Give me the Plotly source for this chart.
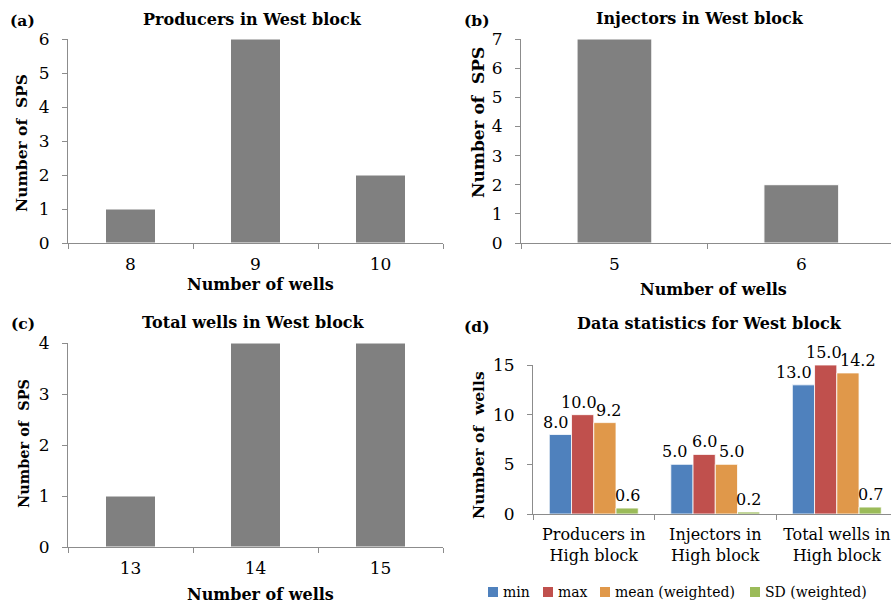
import plotly.graph_objects as go

# ---- data ----
prod_wells = ["8", "9", "10"]
prod_sps = [1, 6, 2]

inj_wells = ["5", "6"]
inj_sps = [7, 2]

total_wells = ["13", "14", "15"]
total_sps = [1, 4, 4]

stat_groups = ["Producers in<br>High block", "Injectors in<br>High block", "Total wells in<br>High block"]
stat_series = ["min", "max", "mean (weighted)", "SD (weighted)"]
stat_min = [8.0, 5.0, 13.0]
stat_max = [10.0, 6.0, 15.0]
stat_mean = [9.2, 5.0, 14.2]
stat_sd = [0.6, 0.2, 0.7]

# ---- styling ----
W, H = 891, 607
FONT = "DejaVu Serif"
AXIS_COLOR = "#8c8c8c"
GREY_BAR = "#808080"
SERIES_COLORS = ["#4f81bd", "#c0504d", "#e0984a", "#9bbb59"]
BARGAP = 0.268
# small sideways nudges (px) so neighbouring value labels do not collide
LABEL_NUDGE = [[-5, -4, 4, 0], [-7, 0, 5, 0], [-9, -2, 10, 0]]


def px(x):
    return x / W


def py(y):
    return 1 - y / H


fig = go.Figure()

# histogram-style panels
for xs, ys, n in [(prod_wells, prod_sps, ""), (inj_wells, inj_sps, "2"), (total_wells, total_sps, "3")]:
    fig.add_trace(go.Bar(
        x=xs, y=ys, xaxis="x" + n, yaxis="y" + n,
        marker=dict(color=GREY_BAR, line=dict(color="white", width=1)),
        width=0.4, offset=-0.2, showlegend=False, hoverinfo="x+y",
    ))

# statistics panel
stat_values = [stat_min, stat_max, stat_mean, stat_sd]
for name, vals, col in zip(stat_series, stat_values, SERIES_COLORS):
    fig.add_trace(go.Bar(
        x=stat_groups, y=vals, name=name, xaxis="x4", yaxis="y4",
        marker=dict(color=col, line=dict(color="white", width=0.8)),
        showlegend=False, cliponaxis=False,
    ))

tickfont = dict(family=FONT, size=17, color="black")


def xax(x0, x1, anchor, rng, fsize=17):
    return dict(domain=[px(x0), px(x1)], anchor=anchor, type="category", range=rng,
                showline=True, linecolor=AXIS_COLOR, linewidth=1,
                ticks="outside", tickson="boundaries", ticklen=5, tickcolor=AXIS_COLOR,
                tickangle=0, ticklabelstandoff=6,
                showgrid=False, zeroline=False, automargin=False,
                tickfont=dict(family=FONT, size=fsize, color="black"), fixedrange=True)


def yax(ybot, ytop, anchor, rng, dtick):
    return dict(domain=[py(ybot), py(ytop)], anchor=anchor, range=rng, dtick=dtick,
                showline=True, linecolor=AXIS_COLOR, linewidth=1,
                ticks="outside", ticklen=5, tickcolor=AXIS_COLOR, ticklabelstandoff=9,
                showgrid=False, zeroline=False, automargin=False,
                tickfont=tickfont, fixedrange=True)


X4_RANGE = [-0.5, 2.446]
fig.update_layout(
    width=W, height=H,
    margin=dict(l=0, r=0, t=0, b=0, autoexpand=False),
    paper_bgcolor="white", plot_bgcolor="white",
    font=dict(family=FONT, color="black"),
    barmode="group", bargap=BARGAP, bargroupgap=0,
    showlegend=False,
    xaxis=xax(68, 443, "y", [-0.5, 2.5]),
    yaxis=yax(243, 39, "x", [0, 6], 1),
    xaxis2=xax(521, 891, "y2", [-0.5, 1.48]),
    yaxis2=yax(243, 39, "x2", [0, 7], 1),
    xaxis3=xax(68, 443, "y3", [-0.5, 2.5]),
    yaxis3=yax(547, 343, "x3", [0, 4], 1),
    xaxis4=xax(533, 891, "y4", X4_RANGE, fsize=16),
    yaxis4=yax(514, 365, "x4", [0, 15], 5),
)

ann = []
shapes = []
bold = lambda s: "<b>" + s + "</b>"


def paper_text(txt, x, y, size, angle=0, xanchor="center"):
    ann.append(dict(text=txt, x=px(x), y=py(y), xref="paper", yref="paper", showarrow=False,
                    xanchor=xanchor, yanchor="middle", textangle=angle,
                    font=dict(family=FONT, size=size, color="black")))


# panel titles and letters
for txt, x, y in [("Producers in West block", 252, 19), ("Injectors in West block", 700, 18),
                  ("Total wells in West block", 254, 322), ("Data statistics for West block", 709, 323)]:
    paper_text(bold(txt), x, y, 16)
for txt, x, y in [("(a)", 22, 21), ("(b)", 477, 21), ("(c)", 23, 323), ("(d)", 477, 326)]:
    paper_text(bold(txt), x, y, 15.5)
# axis titles
for txt, x, y in [("Number of wells", 260, 284), ("Number of wells", 713, 289), ("Number of wells", 260, 594)]:
    paper_text(bold(txt), x, y, 16)
for txt, x, y, s in [("Number of  SPS", 22, 143, 15.5), ("Number of  SPS", 478, 123, 17),
                     ("Number of  SPS", 23, 444, 14.5), ("Number of  wells", 478, 445, 15.5)]:
    paper_text(bold(txt), x, y, s, angle=-90)

# value labels above the statistics bars
plot_w = (891 - 533)
cat_px = plot_w / (X4_RANGE[1] - X4_RANGE[0])
bar_px = cat_px * (1 - BARGAP) / len(stat_series)
for si, vals in enumerate(stat_values):
    for gi, v in enumerate(vals):
        ann.append(dict(text=f"{v:.1f}", x=stat_groups[gi], y=v, xref="x4", yref="y4",
                        showarrow=False, xanchor="center", yanchor="bottom",
                        xshift=(si - 1.5) * bar_px + LABEL_NUDGE[gi][si], yshift=1,
                        font=dict(family=FONT, size=16, color="black")))

# legend for the statistics panel
legend_x = [488, 543, 600, 750]
for name, col, lx in zip(stat_series, SERIES_COLORS, legend_x):
    shapes.append(dict(type="rect", xref="paper", yref="paper",
                       x0=px(lx), x1=px(lx + 10), y0=py(597), y1=py(587),
                       fillcolor=col, line=dict(width=0)))
    paper_text(name, lx + 13, 592, 14, xanchor="left")

fig.update_layout(annotations=ann, shapes=shapes)

fig.write_html("out.html")
